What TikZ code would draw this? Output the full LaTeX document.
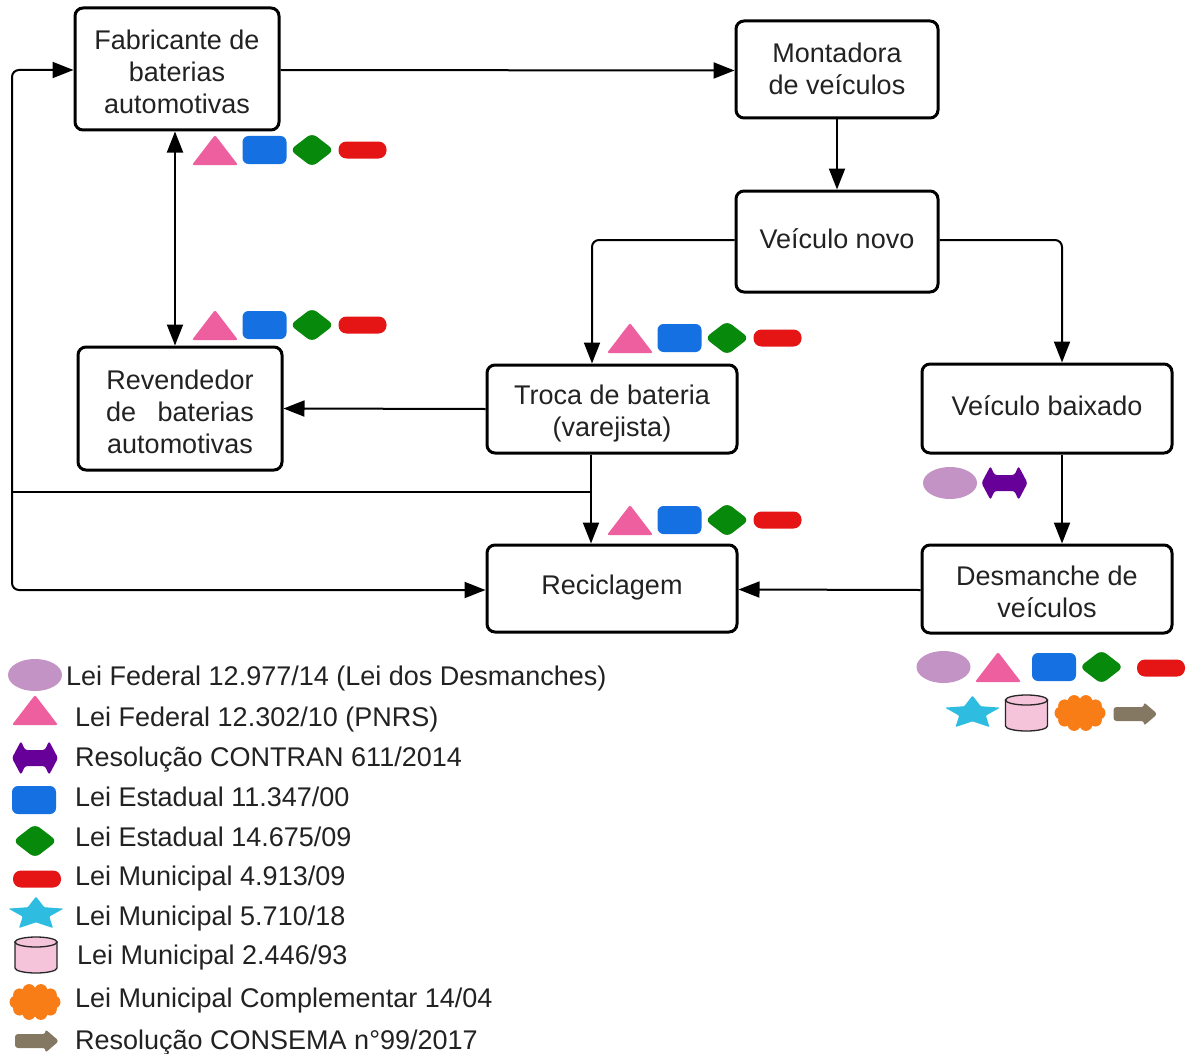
\documentclass[tikz,border=0pt]{standalone}
\usepackage{fontspec}
\setmainfont{Liberation Sans}
\usetikzlibrary{arrows.meta}
\definecolor{cpink}{HTML}{EE5FA0}
\definecolor{cblue}{HTML}{1570E2}
\definecolor{cgreen}{HTML}{078A0C}
\definecolor{cred}{HTML}{E51515}
\definecolor{clilac}{HTML}{C293C4}
\definecolor{cpurple}{HTML}{660099}
\definecolor{ccyan}{HTML}{2EBDE0}
\definecolor{cpinkl}{HTML}{F5C3DA}
\definecolor{corange}{HTML}{F97D17}
\definecolor{cbrown}{HTML}{857862}
\definecolor{ctext}{HTML}{222222}
\tikzset{
  boxnode/.style={draw=black, line width=3pt, rounded corners=8pt, inner sep=0pt},
  boxtext/.style={align=center, inner sep=0pt, text=ctext, font=\fontsize{27}{32}\selectfont},
  conn/.style={draw=black, line width=2pt, -{Triangle[length=21pt,width=16pt]}},
  conn2/.style={draw=black, line width=2pt, {Triangle[length=21pt,width=16pt]}-{Triangle[length=21pt,width=16pt]}},
  plain/.style={draw=black, line width=2pt},
  legtext/.style={anchor=base west, inner sep=0pt, text=ctext, font=\fontsize{27}{32}\selectfont},
  tri/.pic={\fill[cpink, rounded corners=2pt] (-23,15) -- (0,-15) -- (23,15) -- cycle;},
  rbox/.pic={\fill[cblue, rounded corners=6pt] (-22,-14) rectangle (22,14);},
  dia/.pic={\fill[cgreen, rounded corners=6pt] (-22,0) -- (0,-17) -- (22,0) -- (0,17) -- cycle;},
  pill/.pic={\fill[cred, rounded corners=8pt] (-24,-8.5) rectangle (24,8.5);},
  ell/.pic={\fill[clilac] (0,0) ellipse [x radius=27, y radius=16];},
  darrow/.pic={\fill[cpurple, rounded corners=2.5pt] (-23,0) -- (-14,-17) -- (-10,-8) -- (10,-8) -- (14,-17) -- (23,0) -- (14,17) -- (10,8) -- (-10,8) -- (-14,17) -- cycle;},
  star5/.pic={\fill[ccyan, yscale=0.6, rounded corners=1pt] (270:29) -- (306:14) -- (342:29) -- (18:14) -- (54:29) -- (90:14) -- (126:29) -- (162:14) -- (198:29) -- (234:14) -- cycle;},
  cyl/.pic={\filldraw[fill=cpinkl, draw=black!85, line width=1.3pt] (-21,-13) -- (-21,13) arc[start angle=180, end angle=0, x radius=21, y radius=5] -- (21,-13) -- cycle;
            \filldraw[fill=cpinkl, draw=black!85, line width=1.3pt] (0,-13) ellipse [x radius=21, y radius=5];},
  cloudy/.pic={\fill[corange] (0,0) ellipse [x radius=19, y radius=13];
     \foreach \a in {0,36,...,324} {\fill[corange] (\a:19 and 12) circle (6.5);}},
  barrow/.pic={\fill[cbrown, rounded corners=3pt] (-22,-7) -- (9,-7) -- (8,-12) -- (22,0) -- (8,12) -- (9,7) -- (-22,7) -- cycle;}
}
\newcommand\lawfour[2]{%
  \pic at (#1,#2) {tri};
  \pic at (#1+49.5,#2) {rbox};
  \pic at (#1+97,#2) {dia};
  \pic at (#1+147.5,#2) {pill};
}
\begin{document}
\begin{tikzpicture}[x=1pt,y=-1pt]
\useasboundingbox (0,0) rectangle (1188,1054);
\fill[white] (0,0) rectangle (1188,1054);

% boxes
\node[boxnode, minimum width=204pt, minimum height=122pt] (fab) at (177,69) {};
\node[boxnode, minimum width=202pt, minimum height=97pt] (mont) at (837,69.5) {};
\node[boxnode, minimum width=202pt, minimum height=101pt] (vnovo) at (837,241.5) {};
\node[boxnode, minimum width=250pt, minimum height=88pt] (troca) at (612,409) {};
\node[boxnode, minimum width=250pt, minimum height=89pt] (baix) at (1047,408.5) {};
\node[boxnode, minimum width=204pt, minimum height=123pt] (rev) at (180,408.5) {};
\node[boxnode, minimum width=250pt, minimum height=87pt] (reci) at (612,588.5) {};
\node[boxnode, minimum width=250pt, minimum height=88pt] (desm) at (1047,589) {};

% box texts
\node[boxtext] (tfab) at (177,72) {Fabricante de\\baterias\\automotivas};
\node[boxtext] (tmont) at (837,69) {Montadora\\de veículos};
\node[boxtext] (tvnovo) at (837,238.5) {Veículo novo};
\node[boxtext] (ttroca) at (612,414) {Troca de bateria\\(varejista)};
\node[boxtext] (tbaix) at (1047,405.5) {Veículo baixado};
\node[boxtext] (trev) at (180,412) {Revendedor\\de\hspace{14pt} baterias\\automotivas};
\node[boxtext] (treci) at (612,588) {Reciclagem};
\node[boxtext] (tdesm) at (1047,592) {Desmanche de\\veículos};

% connectors
\coordinate (j) at (591,492);
\coordinate (L) at (12,492);
\draw[conn] ([yshift=-1pt]fab.east) -- ([yshift=-1pt]mont.west);
\draw[conn] (mont.south) -- (vnovo.north);
\draw[conn, rounded corners=7pt] ([yshift=1.5pt]vnovo.west) -| ([xshift=-20pt]troca.north);
\draw[conn, rounded corners=7pt] ([yshift=1.5pt]vnovo.east) -| ([xshift=15pt]baix.north);
\draw[conn2] ([xshift=-2pt]fab.south) -- ([xshift=-2pt]fab.south |- rev.north);
\draw[conn] (troca.west) -- (rev.east);
\draw[conn] ([xshift=-21pt]troca.south) -- ([xshift=-21pt]reci.north);
\draw[plain] (j) -- (L);
\draw[conn, rounded corners=7pt] (L) |- ([yshift=-1pt]fab.west);
\draw[conn, rounded corners=7pt] (L) |- ([yshift=-1.5pt]reci.west);
\draw[conn] ([xshift=15pt]baix.south) -- ([xshift=15pt]desm.north);
\draw[conn] ([yshift=-1pt]desm.west) -- ([yshift=-1pt]reci.east);

% law icons on the flow
\lawfour{215}{150}
\lawfour{215}{325}
\lawfour{630}{338}
\lawfour{630}{520}
\pic at (950,483) {ell};
\pic at (1004.5,483) {darrow};
\pic at (943.5,667) {ell};
\pic at (998,667) {tri};
\pic at (1054,667) {rbox};
\pic at (1101.5,667) {dia};
\pic at (1161,668) {pill};
\pic at (972.5,713) {star5};
\pic at (1026.5,713) {cyl};
\pic at (1080,713) {cloudy};
\pic at (1135.5,714) {barrow};

% legend
\pic at (35,675) {ell};
\pic at (35,710) {tri};
\pic at (35,758) {darrow};
\pic at (34,800) {rbox};
\pic at (35,841) {dia};
\pic at (37,879) {pill};
\pic at (36,914) {star5};
\pic at (36,955) {cyl};
\pic at (35,1002) {cloudy};
\pic at (37,1041) {barrow};
\node[legtext] (l1) at (66,685.5) {Lei Federal 12.977/14 (Lei dos Desmanches)};
\node[legtext] (l2) at (75,726.5) {Lei Federal 12.302/10 (PNRS)};
\node[legtext] (l3) at (75,766.5) {Resolução CONTRAN 611/2014};
\node[legtext] (l4) at (75,806.5) {Lei Estadual 11.347/00};
\node[legtext] (l5) at (75,846.5) {Lei Estadual 14.675/09};
\node[legtext] (l6) at (75,885.5) {Lei Municipal 4.913/09};
\node[legtext] (l7) at (75,925.5) {Lei Municipal 5.710/18};
\node[legtext] (l8) at (77,964.5) {Lei Municipal 2.446/93};
\node[legtext] (l9) at (75,1007.5) {Lei Municipal Complementar 14/04};
\node[legtext] (l10) at (75,1049.5) {Resolução CONSEMA n°99/2017};
\end{tikzpicture}
\end{document}
